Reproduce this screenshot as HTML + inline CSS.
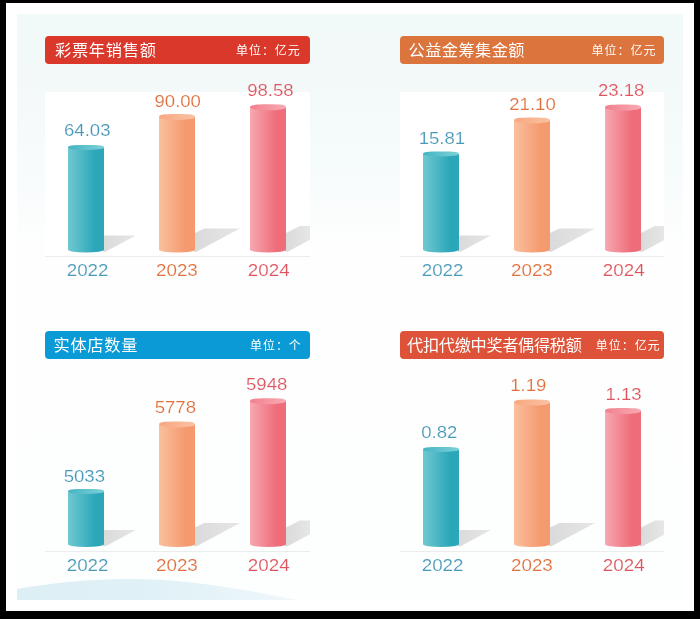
<!DOCTYPE html>
<html lang="zh-CN"><head><meta charset="utf-8"><title>彩票数据</title>
<style>html,body{margin:0;padding:0;background:#000;}body{width:700px;height:619px;overflow:hidden;}svg{display:block;}text{font-family:"Liberation Sans", "Noto Sans CJK SC", sans-serif;}.t{font-size:16.2px;fill:#fff;font-weight:400;}.u{font-size:12px;fill:#fff;font-weight:400;letter-spacing:0.95px;}.n{font-size:16px;stroke:#fff;stroke-width:0.15px;}</style></head><body>
<svg width="700" height="619" viewBox="0 0 700 619">
<defs>
<linearGradient id="bg" x1="0" y1="0" x2="0" y2="1"><stop offset="0" stop-color="#f2f9f9"/><stop offset="0.10" stop-color="#f3f9f9"/><stop offset="0.25" stop-color="#f6fbfb"/><stop offset="0.40" stop-color="#fefefe"/><stop offset="1" stop-color="#fdfefe"/></linearGradient>
<linearGradient id="wv" x1="0" y1="0" x2="1" y2="0"><stop offset="0" stop-color="#dceff5"/><stop offset="0.6" stop-color="#e2f2f7"/><stop offset="1" stop-color="#f0f8fb"/></linearGradient>
<linearGradient id="sh" x1="0" y1="0" x2="1" y2="0"><stop offset="0" stop-color="#dadada"/><stop offset="1" stop-color="#e6e6e6"/></linearGradient>
<linearGradient id="b0" x1="0" y1="0" x2="1" y2="0"><stop offset="0" stop-color="#70c8d1"/><stop offset="0.75" stop-color="#2ba7b9"/><stop offset="1" stop-color="#2ba7b9"/></linearGradient>
<linearGradient id="t0" x1="0" y1="0" x2="1" y2="0"><stop offset="0" stop-color="#45b4c3"/><stop offset="1" stop-color="#7dd0d8"/></linearGradient>
<linearGradient id="b1" x1="0" y1="0" x2="1" y2="0"><stop offset="0" stop-color="#f9c09e"/><stop offset="0.75" stop-color="#f5996e"/><stop offset="1" stop-color="#f5996e"/></linearGradient>
<linearGradient id="t1" x1="0" y1="0" x2="1" y2="0"><stop offset="0" stop-color="#f7a881"/><stop offset="1" stop-color="#fac2a2"/></linearGradient>
<linearGradient id="b2" x1="0" y1="0" x2="1" y2="0"><stop offset="0" stop-color="#f6a8b0"/><stop offset="0.75" stop-color="#ef6c7a"/><stop offset="1" stop-color="#ef6c7a"/></linearGradient>
<linearGradient id="t2" x1="0" y1="0" x2="1" y2="0"><stop offset="0" stop-color="#f2808d"/><stop offset="1" stop-color="#f7abb3"/></linearGradient>
</defs>
<rect x="0" y="0" width="700" height="619" fill="#000"/>
<rect x="6" y="3" width="688" height="608" fill="#fff"/>
<rect x="17" y="14" width="666" height="586" fill="url(#bg)"/>
<path d="M17 600 L17 589 C50 583 90 579 130 579 C175 579 215 585 247 590.5 C270 594.5 285 598 299 600 Z" fill="url(#wv)"/>
<rect x="45" y="92" width="265" height="164" fill="#fff"/>
<rect x="400" y="92" width="264" height="164" fill="#fff"/>
<rect x="45" y="256" width="265" height="1" fill="#ebeded"/>
<rect x="45" y="551" width="265" height="1" fill="#ebeded"/>
<rect x="400" y="256" width="264" height="1" fill="#ebeded"/>
<rect x="400" y="551" width="264" height="1" fill="#ebeded"/>
<rect x="45" y="36" width="265" height="28" rx="4" ry="4" fill="#d9382a"/>
<text class="t" x="55" y="56" letter-spacing="0.75">彩票年销售额</text>
<text class="u" x="236" y="54.9">单位：亿元</text>
<rect x="400" y="36" width="264" height="28" rx="4" ry="4" fill="#dc743e"/>
<text class="t" x="408.5" y="56" letter-spacing="0.45">公益金筹集金额</text>
<text class="u" x="591.6" y="54.9">单位：亿元</text>
<rect x="45" y="331" width="265" height="28" rx="4" ry="4" fill="#0a9ad6"/>
<text class="t" x="53.5" y="351" letter-spacing="0.75">实体店数量</text>
<text class="u" x="250" y="349.9">单位：个</text>
<rect x="400" y="331" width="264" height="28" rx="4" ry="4" fill="#dd5238"/>
<text class="t" x="407.1" y="351" letter-spacing="-0.33">代扣代缴中奖者偶得税额</text>
<text class="u" x="595.8" y="349.9" letter-spacing="0.75">单位：亿元</text>
<polygon points="103.0,235.5 104.0,235.5 135.8,235.5 105.5,251.7 103.0,251.7" fill="url(#sh)"/>
<path d="M68 147.5 L68 249.8 A18 2.7 0 0 0 104 249.8 L104 147.5 Z" fill="url(#b0)"/>
<path d="M68 147.5 C68 145.55 71.96 145 86 145 C100.04 145 104 145.55 104 147.5 A18 2.5 0 0 1 68 147.5 Z" fill="url(#t0)"/>
<text class="n" text-anchor="middle" transform="translate(87.25,135.5) scale(1.16,1)" fill="#4898b7">64.03</text>
<text class="n" text-anchor="middle" transform="translate(87.6,276.35) scale(1.175,1)" fill="#4898b7">2022</text>
<polygon points="194.0,233.5 204.3,228.5 239.9,228.5 196.5,251.7 194.0,251.7" fill="url(#sh)"/>
<path d="M159 117 L159 249.8 A18 2.7 0 0 0 195 249.8 L195 117 Z" fill="url(#b1)"/>
<path d="M159 117 C159 114.66 162.96 114 177 114 C191.04 114 195 114.66 195 117 A18 3 0 0 1 159 117 Z" fill="url(#t1)"/>
<text class="n" text-anchor="middle" transform="translate(177.7,106.7) scale(1.16,1)" fill="#e06f3c">90.00</text>
<text class="n" text-anchor="middle" transform="translate(176.9,276.35) scale(1.175,1)" fill="#e06f3c">2023</text>
<polygon points="285.0,233.5 300.0,226.0 310.0,226.0 310.0,239.7 287.5,251.7 285.0,251.7" fill="url(#sh)"/>
<path d="M250 107.3 L250 249.8 A18 2.7 0 0 0 286 249.8 L286 107.3 Z" fill="url(#b2)"/>
<path d="M250 107.3 C250 104.96 253.96 104.3 268 104.3 C282.04 104.3 286 104.96 286 107.3 A18 3 0 0 1 250 107.3 Z" fill="url(#t2)"/>
<text class="n" text-anchor="middle" transform="translate(270.35,95.8) scale(1.16,1)" fill="#de545e">98.58</text>
<text class="n" text-anchor="middle" transform="translate(268.7,276.35) scale(1.175,1)" fill="#de545e">2024</text>
<polygon points="458.0,235.5 459.0,235.5 490.8,235.5 460.5,251.7 458.0,251.7" fill="url(#sh)"/>
<path d="M423 154 L423 249.8 A18 2.7 0 0 0 459 249.8 L459 154 Z" fill="url(#b0)"/>
<path d="M423 154 C423 152.05 426.96 151.5 441 151.5 C455.04 151.5 459 152.05 459 154 A18 2.5 0 0 1 423 154 Z" fill="url(#t0)"/>
<text class="n" text-anchor="middle" transform="translate(441.9,144) scale(1.16,1)" fill="#4898b7">15.81</text>
<text class="n" text-anchor="middle" transform="translate(442.6,276.35) scale(1.175,1)" fill="#4898b7">2022</text>
<polygon points="549.0,233.5 559.3,228.5 594.9,228.5 551.5,251.7 549.0,251.7" fill="url(#sh)"/>
<path d="M514 120.4 L514 249.8 A18 2.7 0 0 0 550 249.8 L550 120.4 Z" fill="url(#b1)"/>
<path d="M514 120.4 C514 118.06 517.96 117.4 532 117.4 C546.04 117.4 550 118.06 550 120.4 A18 3 0 0 1 514 120.4 Z" fill="url(#t1)"/>
<text class="n" text-anchor="middle" transform="translate(532.5,109.7) scale(1.16,1)" fill="#e06f3c">21.10</text>
<text class="n" text-anchor="middle" transform="translate(531.9,276.35) scale(1.175,1)" fill="#e06f3c">2023</text>
<polygon points="640.0,233.5 655.0,226.0 664.0,226.0 664.0,240.2 642.5,251.7 640.0,251.7" fill="url(#sh)"/>
<path d="M605 107.6 L605 249.8 A18 2.7 0 0 0 641 249.8 L641 107.6 Z" fill="url(#b2)"/>
<path d="M605 107.6 C605 105.26 608.96 104.6 623 104.6 C637.04 104.6 641 105.26 641 107.6 A18 3 0 0 1 605 107.6 Z" fill="url(#t2)"/>
<text class="n" text-anchor="middle" transform="translate(621.2,95.6) scale(1.16,1)" fill="#de545e">23.18</text>
<text class="n" text-anchor="middle" transform="translate(623.7,276.35) scale(1.175,1)" fill="#de545e">2024</text>
<polygon points="103.0,530.0 104.0,530.0 135.8,530.0 105.5,546.2 103.0,546.2" fill="url(#sh)"/>
<path d="M68 491.4 L68 544.3 A18 2.7 0 0 0 104 544.3 L104 491.4 Z" fill="url(#b0)"/>
<path d="M68 491.4 C68 489.45 71.96 488.9 86 488.9 C100.04 488.9 104 489.45 104 491.4 A18 2.5 0 0 1 68 491.4 Z" fill="url(#t0)"/>
<text class="n" text-anchor="middle" transform="translate(84.35,481.8) scale(1.16,1)" fill="#4898b7">5033</text>
<text class="n" text-anchor="middle" transform="translate(87.6,571.15) scale(1.175,1)" fill="#4898b7">2022</text>
<polygon points="194.0,528.0 204.3,523.0 239.9,523.0 196.5,546.2 194.0,546.2" fill="url(#sh)"/>
<path d="M159 424.4 L159 544.3 A18 2.7 0 0 0 195 544.3 L195 424.4 Z" fill="url(#b1)"/>
<path d="M159 424.4 C159 422.06 162.96 421.4 177 421.4 C191.04 421.4 195 422.06 195 424.4 A18 3 0 0 1 159 424.4 Z" fill="url(#t1)"/>
<text class="n" text-anchor="middle" transform="translate(175.35,413) scale(1.16,1)" fill="#e06f3c">5778</text>
<text class="n" text-anchor="middle" transform="translate(176.9,571.15) scale(1.175,1)" fill="#e06f3c">2023</text>
<polygon points="285.0,528.0 300.0,520.5 310.0,520.5 310.0,534.2 287.5,546.2 285.0,546.2" fill="url(#sh)"/>
<path d="M250 401.2 L250 544.3 A18 2.7 0 0 0 286 544.3 L286 401.2 Z" fill="url(#b2)"/>
<path d="M250 401.2 C250 398.86 253.96 398.2 268 398.2 C282.04 398.2 286 398.86 286 401.2 A18 3 0 0 1 250 401.2 Z" fill="url(#t2)"/>
<text class="n" text-anchor="middle" transform="translate(266.65,390) scale(1.16,1)" fill="#de545e">5948</text>
<text class="n" text-anchor="middle" transform="translate(268.7,571.15) scale(1.175,1)" fill="#de545e">2024</text>
<polygon points="458.0,530.0 459.0,530.0 490.8,530.0 460.5,546.2 458.0,546.2" fill="url(#sh)"/>
<path d="M423 449.6 L423 544.3 A18 2.7 0 0 0 459 544.3 L459 449.6 Z" fill="url(#b0)"/>
<path d="M423 449.6 C423 447.65 426.96 447.1 441 447.1 C455.04 447.1 459 447.65 459 449.6 A18 2.5 0 0 1 423 449.6 Z" fill="url(#t0)"/>
<text class="n" text-anchor="middle" transform="translate(439.35,438.1) scale(1.16,1)" fill="#4898b7">0.82</text>
<text class="n" text-anchor="middle" transform="translate(442.6,571.15) scale(1.175,1)" fill="#4898b7">2022</text>
<polygon points="549.0,528.0 559.3,523.0 594.9,523.0 551.5,546.2 549.0,546.2" fill="url(#sh)"/>
<path d="M514 402.6 L514 544.3 A18 2.7 0 0 0 550 544.3 L550 402.6 Z" fill="url(#b1)"/>
<path d="M514 402.6 C514 400.26 517.96 399.6 532 399.6 C546.04 399.6 550 400.26 550 402.6 A18 3 0 0 1 514 402.6 Z" fill="url(#t1)"/>
<text class="n" text-anchor="middle" transform="translate(528.3,390.6) scale(1.16,1)" fill="#e06f3c">1.19</text>
<text class="n" text-anchor="middle" transform="translate(531.9,571.15) scale(1.175,1)" fill="#e06f3c">2023</text>
<polygon points="640.0,528.0 655.0,520.5 664.0,520.5 664.0,534.7 642.5,546.2 640.0,546.2" fill="url(#sh)"/>
<path d="M605 411.1 L605 544.3 A18 2.7 0 0 0 641 544.3 L641 411.1 Z" fill="url(#b2)"/>
<path d="M605 411.1 C605 408.76 608.96 408.1 623 408.1 C637.04 408.1 641 408.76 641 411.1 A18 3 0 0 1 605 411.1 Z" fill="url(#t2)"/>
<text class="n" text-anchor="middle" transform="translate(623.6,399.7) scale(1.16,1)" fill="#de545e">1.13</text>
<text class="n" text-anchor="middle" transform="translate(623.7,571.15) scale(1.175,1)" fill="#de545e">2024</text>
</svg>
</body></html>
